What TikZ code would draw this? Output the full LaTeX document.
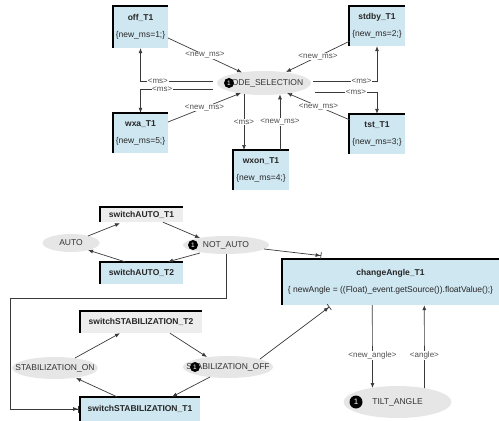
\documentclass[tikz,border=0pt]{standalone}
\usepackage{fontspec}
\setmainfont{Liberation Sans}
\usetikzlibrary{shapes.geometric,arrows.meta,calc}
\definecolor{boxblue}{HTML}{CFE7F1}
\definecolor{boxgray}{HTML}{EDEDED}
\definecolor{ellgray}{HTML}{E6E6E6}
\definecolor{linecol}{HTML}{3A3A3A}
\definecolor{labcol}{HTML}{505050}
\newcommand\ztext[1]{\makebox[0pt]{#1}}
\begin{document}
\begin{tikzpicture}[x=1pt,y=-1pt,
  tbox/.style={rectangle, inner sep=1pt, align=center, text=black!85, font=\fontsize{8.5}{10}\selectfont},
  bluebox/.style={tbox, fill=boxblue},
  graybox/.style={tbox, fill=boxgray},
  place/.style={ellipse, fill=ellgray, inner sep=0pt, text=black!80, font=\fontsize{8.5}{10}\selectfont},
  token/.style={circle, fill=black, text=white, inner sep=0pt, minimum size=10pt, font=\fontsize{6.5}{7}\selectfont},
  arr/.style={draw=linecol, line width=0.7pt, -{Latex[length=5pt,width=4pt]}},
  inh/.style={draw=linecol, line width=0.7pt, -{Latex[length=5pt,width=4pt] Bar[width=7pt,sep=1pt]}},
  lab/.style={fill=white, inner sep=0.6pt, text=labcol, font=\fontsize{8}{9}\selectfont},
  edgeb/.style={line width=1.8pt, black}]
\useasboundingbox (0,0) rectangle (499,421);

% ---------- top part ----------
\node[bluebox, minimum width=55, minimum height=42] (off) at (140.5,27) {\textbf{off\_T1}\\[7pt]\{new\_ms=1;\}};
\node[bluebox, minimum width=56, minimum height=40] (stdby) at (377,26) {\textbf{stdby\_T1}\\[7pt]\{new\_ms=2;\}};
\node[bluebox, minimum width=55, minimum height=40] (wxa) at (140.5,133) {\textbf{wxa\_T1}\\[7pt]\{new\_ms=5;\}};
\node[bluebox, minimum width=56, minimum height=40] (tst) at (377,134) {\textbf{tst\_T1}\\[7pt]\{new\_ms=3;\}};
\node[bluebox, minimum width=56, minimum height=40] (wxon) at (261,170) {\textbf{wxon\_T1}\\[7pt]\{new\_ms=4;\}};
\node[place, minimum width=94, minimum height=24] (mode) at (264,83) {\ztext{MODE\_SELECTION}};

% ---------- bottom part ----------
\node[graybox, minimum width=83, minimum height=15] (sAT1) at (141.5,214.5) {\textbf{switchAUTO\_T1}};
\node[bluebox, minimum width=83, minimum height=22] (sAT2) at (141.5,273) {\textbf{switchAUTO\_T2}};
\node[place, minimum width=57, minimum height=18] (auto) at (71,243) {\ztext{AUTO}};
\node[place, minimum width=86, minimum height=18] (notauto) at (226,245) {\ztext{NOT\_AUTO}};
\node[graybox, minimum width=122, minimum height=22] (sST2) at (141,322) {\textbf{switchSTABILIZATION\_T2}};
\node[bluebox, minimum width=120, minimum height=24] (sST1) at (140,409) {\textbf{switchSTABILIZATION\_T1}};
\node[place, minimum width=86, minimum height=22] (stabon) at (55,368) {\ztext{STABILIZATION\_ON}};
\node[place, minimum width=90, minimum height=22] (staboff) at (228,367) {\ztext{STABILIZATION\_OFF}};
\node[bluebox, minimum width=216, minimum height=46] (ca) at (390.5,282) {\textbf{changeAngle\_T1}\\[7pt]\{ newAngle = ((Float)\_event.getSource()).floatValue();\}};
\node[place, minimum width=108, minimum height=32] (tilt) at (397.5,402) {\ztext{TILT\_ANGLE}};

% thick top/left borders
\foreach \n in {off,stdby,wxa,tst,wxon,sAT1,sAT2,sST2,sST1,ca}
  \draw[edgeb] (\n.south west) -- (\n.north west) -- (\n.north east);

% tokens
\node[token] (tk1) at (229,83) {1};
\node[token] (tk2) at (193,245) {1};
\node[token] (tk3) at (195,367) {1};
\node[token, minimum size=13pt, font=\fontsize{8}{9}\selectfont] (tk4) at (356,402) {1};

% ---------- top connectors ----------
\draw[arr] ($(off)+(27.5,11)$) -- node[lab](l1){<new\_ms>} ($(mode)+(-22,-10.5)$);
\draw[arr] ($(stdby)+(-27,15)$) -- node[lab](l2){<new\_ms>} ($(mode)+(22,-11)$);
\draw[arr] ($(wxa)+(27.5,-11)$) -- node[lab](l3){<new\_ms>} ($(mode)+(-23,10)$);
\draw[arr] ($(tst)+(-27,-14)$) -- node[lab](l4){<new\_ms>} ($(mode)+(23,10)$);
\draw[arr] ($(wxon)+(19,-20)$) -- node[lab](l5){<new\_ms>} ($(mode)+(16,11.3)$);
\draw[arr] ($(mode)+(-20,11)$) -- node[lab](l6){<ms>} ($(wxon)+(-17,-20)$);
\draw[arr] ($(mode)+(-51,-2)$) -| node[lab,pos=0.38](l7){<ms>} (off.south);
\draw[arr] ($(mode)+(-51,6)$) -| node[lab,pos=0.35](l8){<ms>} (wxa.north);
\draw[arr] ($(mode)+(49,-2)$) -| node[lab,pos=0.38](l9){<ms>} (stdby.south);
\draw[arr] ($(mode)+(51,9)$) -| node[lab,pos=0.33](l10){<ms>} (tst.north);

% ---------- bottom connectors ----------
\draw[arr] ($(auto)+(17,-7)$) -- ($(sAT1.south)+(-21.5,1)$);
\draw[arr] ($(sAT1.south)+(21.5,0)$) -- ($(notauto)+(-26,-7)$);
\draw[arr] ($(notauto)+(-26,8)$) -- ($(sAT2.north)+(26.5,0)$);
\draw[arr] ($(sAT2.north)+(-16.5,0)$) -- ($(auto)+(17,7)$);
\draw[arr] ($(stabon)+(20,-10)$) -- ($(sST2.south)+(-21,0)$);
\draw[arr] ($(sST2.south)+(29,0)$) -- ($(staboff)+(-21,-10)$);
\draw[arr] ($(staboff)+(-18,10)$) -- ($(sST1.north)+(32,0)$);
\draw[arr] ($(sST1.north)+(-23,0)$) -- ($(stabon)+(21,10)$);
\coordinate (c1) at (10,298);
\draw[inh] (notauto.south) |- (c1) |- (sST1.west);
\draw[inh] ($(notauto)+(38,4)$) -- ($(ca.north west)+(40,-3)$);
\draw[inh] ($(staboff)+(32,-8)$) -- ($(ca.south west)+(48,1)$);
\draw[arr] ($(ca.south west)+(90,0)$) -- node[lab,pos=0.61](l11){<new\_angle>} ($(tilt)+(-25,-14)$);
\draw[arr] ($(tilt)+(27,-14)$) -- node[lab,pos=0.39](l12){<angle>} ($(ca.south west)+(142,0)$);
\end{tikzpicture}
\end{document}
